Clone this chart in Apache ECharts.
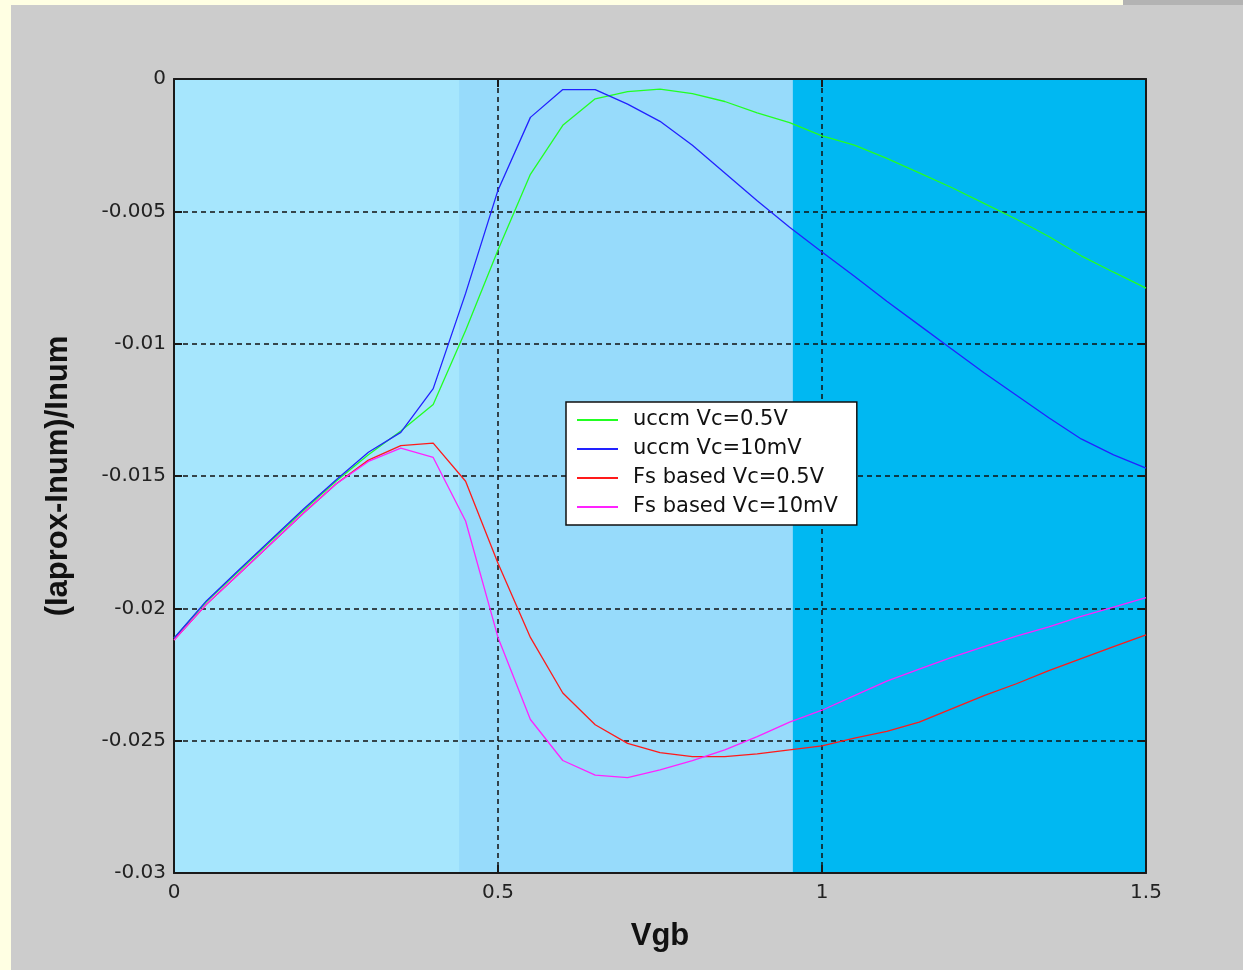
<!DOCTYPE html>
<html>
<head>
<meta charset="utf-8">
<script src="https://cdn.jsdelivr.net/npm/echarts@6/dist/echarts.min.js"></script>
<style>
html,body{margin:0;padding:0;width:1243px;height:970px;overflow:hidden;background:#ffffe3;}
#bg{position:absolute;left:11px;top:5px;width:1232px;height:965px;background:#cccccc;}
#tr{position:absolute;left:1123px;top:0;width:120px;height:5px;background:#b3b3b3;}
#chart{position:absolute;left:0;top:0;width:1243px;height:970px;}
</style>
</head>
<body>
<div id="bg"></div><div id="tr"></div>
<div id="chart"></div>
<script>
// Vgb sample points
const vgb = [0, 0.05, 0.1, 0.15, 0.2, 0.25, 0.3, 0.35, 0.4, 0.45, 0.5, 0.55, 0.6, 0.65, 0.7, 0.75, 0.8, 0.85, 0.9, 0.95, 1.0, 1.05, 1.1, 1.15, 1.2, 1.25, 1.3, 1.35, 1.4, 1.45, 1.5];
// (Iaprox-Inum)/Inum
const uccm05 = [-0.02113, -0.01975, -0.0186, -0.01745, -0.0163, -0.0152, -0.0142, -0.0133, -0.0123, -0.0095, -0.00646, -0.0036, -0.00175, -0.00075, -0.00048, -0.00038, -0.00055, -0.00085, -0.00128, -0.00165, -0.00215, -0.0025, -0.003, -0.00355, -0.0041, -0.0047, -0.0053, -0.00595, -0.00668, -0.0073, -0.0079];
const uccm10m = [-0.02113, -0.01972, -0.01855, -0.0174, -0.01625, -0.01515, -0.0141, -0.01335, -0.0117, -0.0081, -0.0042, -0.00145, -0.0004, -0.0004, -0.00095, -0.0016, -0.0025, -0.00355, -0.0046, -0.0056, -0.00654, -0.00745, -0.0084, -0.0093, -0.0102, -0.0111, -0.01195, -0.0128, -0.0136, -0.0142, -0.0147];
const fs05 = [-0.0212, -0.01985, -0.0187, -0.01755, -0.0164, -0.0153, -0.0144, -0.01385, -0.01376, -0.0152, -0.0183, -0.0211, -0.0232, -0.0244, -0.0251, -0.02545, -0.0256, -0.0256, -0.0255, -0.02535, -0.0252, -0.0249, -0.02465, -0.0243, -0.0238, -0.0233, -0.02285, -0.02235, -0.0219, -0.02145, -0.021];
const fs10m = [-0.0212, -0.01985, -0.0187, -0.01755, -0.0164, -0.0153, -0.01445, -0.01395, -0.0143, -0.0167, -0.0211, -0.0242, -0.02575, -0.0263, -0.0264, -0.0261, -0.02575, -0.02535, -0.02485, -0.0243, -0.02385, -0.0233, -0.02275, -0.0223, -0.02185, -0.02145, -0.02105, -0.0207, -0.0203, -0.01995, -0.0196];
// shaded Vgb regions
const bandEdges = [0.44, 0.955];
const seriesNames = ['uccm Vc=0.5V', 'uccm Vc=10mV', 'Fs based Vc=0.5V', 'Fs based Vc=10mV'];
const seriesColors = ['#22ff22', '#2222ff', '#ff1a1a', '#ff22ff'];
const seriesData = [uccm05, uccm10m, fs05, fs10m];

const FONT = 'Liberation Sans';
const FONT2 = 'DejaVu Sans';
const chart = echarts.init(document.getElementById('chart'), null, {renderer: 'canvas'});
const fmt = v => String(parseFloat(Number(v).toFixed(4)));
const gridLine = {show: true, lineStyle: {color: '#111', width: 1.5, type: [5, 4]}};
const axLine = {show: true, onZero: false, lineStyle: {color: '#1a1a1a', width: 2}};
const tick = {show: true, inside: true, length: 8, lineStyle: {color: '#1a1a1a', width: 2}};

const series = [{
  name: 'bands', type: 'line', data: [], z: 1, silent: true,
  markArea: {
    silent: true,
    data: [
      [{xAxis: bandEdges[0], itemStyle: {color: '#97dbfb'}}, {xAxis: bandEdges[1]}],
      [{xAxis: bandEdges[1], itemStyle: {color: '#00b8f2'}}, {xAxis: 1.5}]
    ]
  }
}];
seriesData.forEach((d, i) => {
  series.push({
    name: seriesNames[i], type: 'line', z: 3, symbol: 'none', animation: false,
    data: vgb.map((x, j) => [x, d[j]]),
    lineStyle: {color: seriesColors[i], width: 1.3},
    itemStyle: {color: seriesColors[i]}
  });
});

chart.setOption({
  animation: false,
  backgroundColor: 'transparent',
  grid: {left: 174, top: 79, right: 97, bottom: 97, show: true, backgroundColor: '#a6e6fd', borderWidth: 0},
  legend: {
    data: seriesNames.map(n => ({name: n, icon: 'rect'})), orient: 'vertical', left: 566, top: 402,
    backgroundColor: '#ffffff', borderColor: '#111', borderWidth: 1.5, borderRadius: 0,
    padding: [4, 19, 4, 11], itemGap: 1, itemWidth: 41, itemHeight: 2,
    textStyle: {fontFamily: FONT2, fontSize: 21, color: '#111', lineHeight: 28, padding: [0, 0, 0, 10]},
    z: 10
  },
  xAxis: [{
    type: 'value', min: 0, max: 1.5, interval: 0.5, z: 2,
    name: 'Vgb', nameLocation: 'middle', nameGap: 48,
    nameTextStyle: {fontFamily: FONT, fontSize: 31, fontWeight: 'bold', color: '#111'},
    axisLine: axLine, axisTick: tick, splitLine: gridLine,
    axisLabel: {fontFamily: FONT2, fontSize: 20, color: '#222', margin: 10, formatter: fmt}
  }, {
    type: 'value', position: 'top', min: 0, max: 1.5, interval: 0.5, z: 2,
    axisLine: axLine, axisTick: tick, splitLine: {show: false}, axisLabel: {show: false}
  }],
  yAxis: [{
    type: 'value', min: -0.03, max: 0, interval: 0.005, z: 2,
    name: '(Iaprox-Inum)/Inum', nameLocation: 'middle', nameGap: 100,
    nameTextStyle: {fontFamily: FONT, fontSize: 31, fontWeight: 'bold', color: '#111'},
    axisLine: axLine, axisTick: tick, splitLine: gridLine,
    axisLabel: {fontFamily: FONT2, fontSize: 20, color: '#222', margin: 8, formatter: fmt}
  }, {
    type: 'value', position: 'right', min: -0.03, max: 0, interval: 0.005, z: 2,
    axisLine: axLine, axisTick: tick, splitLine: {show: false}, axisLabel: {show: false}
  }],
  series: series
});
</script>
</body>
</html>
